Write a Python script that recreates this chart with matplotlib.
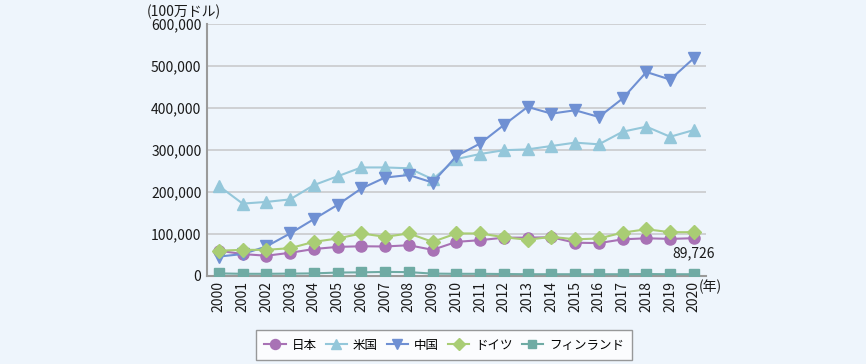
import matplotlib
matplotlib.use('Agg')
import matplotlib.pyplot as plt
from matplotlib.ticker import FuncFormatter

plt.rcParams['font.family'] = ['Noto Sans CJK JP', 'DejaVu Sans']

years = [str(y) for y in range(2000, 2021)]
japan = [60000, 52000, 48000, 55000, 64000, 69000, 70500, 70000, 73000, 62000, 81000,
         85000, 91000, 91000, 92000, 79000, 78000, 87000, 89500, 88000, 89726]
usa = [214000, 172000, 176000, 182000, 216000, 237000, 258000, 258000, 256000, 230000, 278000,
       290000, 299000, 301000, 309000, 317000, 313000, 343000, 355000, 331000, 347000]
china = [46000, 52000, 70000, 101000, 135000, 169000, 208000, 234000, 240000, 222000, 285000,
         315000, 359000, 402000, 386000, 394000, 378000, 422000, 485000, 467000, 518000]
germany = [60000, 62000, 62000, 66000, 81000, 89000, 101000, 93000, 101000, 81000, 101000,
           101000, 92000, 86000, 93000, 87000, 89000, 103000, 111000, 104000, 104000]
finland = [6000, 5000, 5000, 5500, 6000, 8000, 8500, 9500, 9000, 5500, 5000,
           5000, 4500, 4000, 4000, 4000, 4000, 4000, 4500, 4000, 4000]

series = [
    ('日本', japan, '#A872B5', 'o'),
    ('米国', usa, '#94C7DA', '^'),
    ('中国', china, '#6F90D3', 'v'),
    ('ドイツ', germany, '#A9CD74', 'D'),
    ('フィンランド', finland, '#6FABA4', 's'),
]

bg = '#EEF5FC'
fig = plt.figure(figsize=(8.66, 3.64), dpi=100, facecolor=bg)
ax = fig.add_axes([0.239, 0.242, 0.576, 0.693])
ax.set_facecolor(bg)

x = list(range(len(years)))
for name, vals, col, mk in series:
    ms = 7 if mk == 'D' else (7 if mk == 's' else 8)
    ax.plot(x, vals, color=col, marker=mk, markersize=ms, linewidth=1.5,
            markeredgecolor=col, label=name, zorder=3)

ax.set_xlim(-0.5, len(years) - 0.5)
ax.set_ylim(0, 600000)
ax.set_yticks(range(0, 600001, 100000))
ax.yaxis.set_major_formatter(FuncFormatter(lambda v, p: f'{int(v):,}'))
ax.set_xticks(x)
ax.set_xticklabels(years, rotation=90)
ax.tick_params(axis='both', length=0, labelsize=10, colors='#1a1a1a', pad=4)
ax.grid(axis='y', color='#C9CACC', linewidth=1.2)
ax.set_axisbelow(True)
for s in ['top', 'right']:
    ax.spines[s].set_visible(False)
ax.spines['left'].set_color('#9A9A9A')
ax.spines['left'].set_linewidth(1.5)
ax.spines['bottom'].set_color('#9A9A9A')
ax.spines['bottom'].set_linewidth(1.5)

ax.annotate(f'{japan[-1]:,}', (x[-1], japan[-1]), xytext=(0, -6), textcoords='offset points',
            ha='center', va='top', fontsize=10, color='#1a1a1a')
fig.text(0.170, 0.968, '(100万ドル)', fontsize=10, color='#1a1a1a', va='center', ha='left')
fig.text(0.807, 0.212, '(年)', fontsize=10, color='#1a1a1a', va='center', ha='left')

leg = fig.legend(loc='center', bbox_to_anchor=(0.513, 0.052), ncol=5, frameon=True,
                 fancybox=False, edgecolor='#808080', facecolor='white', fontsize=9,
                 handlelength=1.7, columnspacing=0.7, handletextpad=0.5, borderpad=0.65,
                 markerscale=0.9)
leg.get_frame().set_linewidth(1.0)

fig.savefig('out.png', dpi=100, facecolor=bg)
